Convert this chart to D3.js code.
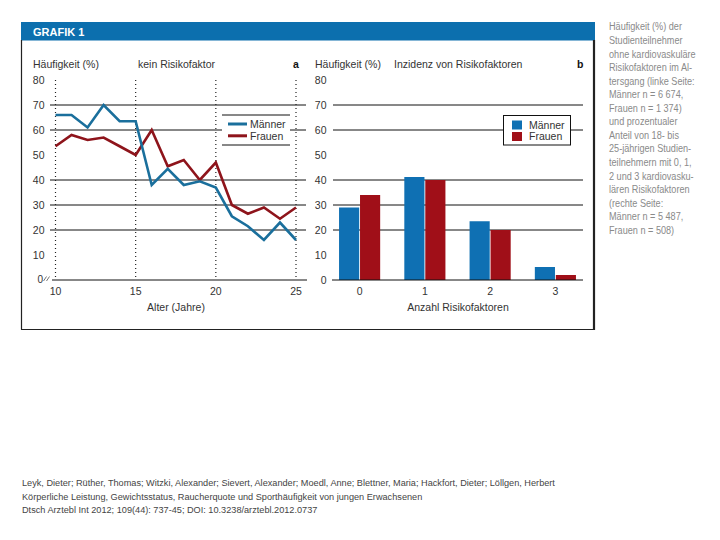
<!DOCTYPE html>
<html>
<head>
<meta charset="utf-8">
<script src="https://cdn.jsdelivr.net/npm/d3@7"></script>
<style>
  body { margin: 0; background: #fff; }
  text { font-family: "Liberation Sans", Arial, sans-serif; }
</style>
</head>
<body>
<script>
// daten
const ages = [10, 11, 12, 13, 14, 15, 16, 17, 18, 19, 20, 21, 22, 23, 24, 25];
const maenner = [66, 66, 61, 70, 63.5, 63.5, 38, 44.5, 38, 39.5, 37, 25.5, 21.5, 16, 23, 16];
const frauen = [53.5, 58, 56, 57, 53.5, 50, 60, 45.5, 48, 40, 47, 30, 26.5, 29, 24.5, 29];
const anzahl = ["0", "1", "2", "3"];
const barM = [29, 41.2, 23.5, 5.2];
const barF = [34, 40, 20, 2];
const yTicks = [0, 10, 20, 30, 40, 50, 60, 70, 80];
const gridVals = [20, 30, 40, 60, 70];
const xTicks = [10, 15, 20, 25];
const sideText = [
  "Häufigkeit (%) der", "Studienteilnehmer", "ohne kardiovaskuläre",
  "Risikofaktoren im Al-", "tersgang (linke Seite:", "Männer n = 6 674,",
  "Frauen n = 1 374)", "und prozentualer", "Anteil von 18- bis",
  "25-jährigen Studien-", "teilnehmern mit 0, 1,", "2 und 3 kardiovasku-",
  "lären Risikofaktoren", "(rechte Seite:", "Männer n = 5 487,", "Frauen n = 508)"
];
const zitat = [
  "Leyk, Dieter; Rüther, Thomas; Witzki, Alexander; Sievert, Alexander; Moedl, Anne; Blettner, Maria; Hackfort, Dieter; Löllgen, Herbert",
  "Körperliche Leistung, Gewichtsstatus, Raucherquote und Sporthäufigkeit von jungen Erwachsenen",
  "Dtsch Arztebl Int 2012; 109(44): 737-45; DOI: 10.3238/arztebl.2012.0737"
];

const blauLinie = "#1a6f9c", rotLinie = "#8e141b";
const blauBar = "#0f70b3", rotBar = "#a00f18";
const txt = "#333";

const svg = d3.select("body").append("svg")
  .attr("width", 720).attr("height", 540);

// Rahmen + Kopf
svg.append("rect").attr("x", 21).attr("y", 22).attr("width", 574).attr("height", 18.5)
  .attr("fill", "#0c6fae");
svg.append("text").attr("x", 33).attr("y", 35.5).attr("fill", "#fff")
  .style("font-size", "11px").style("font-weight", "bold").text("GRAFIK 1");
svg.append("line").attr("x1", 21.5).attr("x2", 21.5).attr("y1", 40).attr("y2", 329.5)
  .attr("stroke", "#222").attr("stroke-width", 1.2);
svg.append("line").attr("x1", 21).attr("x2", 595).attr("y1", 329.5).attr("y2", 329.5)
  .attr("stroke", "#222").attr("stroke-width", 1.2);
svg.append("line").attr("x1", 594).attr("x2", 594).attr("y1", 40).attr("y2", 330)
  .attr("stroke", "#222").attr("stroke-width", 2.2);

const y = d3.scaleLinear().domain([0, 80]).range([280, 80]);

// ---------- a: Linien ----------
const x = d3.scaleLinear().domain([10, 25]).range([55.5, 296]);
const ga = svg.append("g");

ga.selectAll(".grid").data(gridVals).enter().append("line")
  .attr("x1", 50).attr("x2", 306)
  .attr("y1", d => y(d)).attr("y2", d => y(d))
  .attr("stroke", "#111").attr("stroke-width", 1);
ga.append("line").attr("x1", 52).attr("x2", 307).attr("y1", y(0)).attr("y2", y(0))
  .attr("stroke", "#111").attr("stroke-width", 1);

ga.selectAll(".dot").data(xTicks).enter().append("line")
  .attr("x1", d => x(d)).attr("x2", d => x(d))
  .attr("y1", y(80)).attr("y2", y(0))
  .attr("stroke", "#222").attr("stroke-width", 1.2).attr("stroke-dasharray", "1,3");

ga.selectAll(".yl").data(yTicks.filter(d => d > 0)).enter().append("text")
  .attr("x", 44.5).attr("y", d => y(d) + 4).attr("text-anchor", "end")
  .attr("fill", txt).style("font-size", "10.5px").text(d => d);
ga.append("text").attr("x", 43).attr("y", y(0) + 3).attr("text-anchor", "end")
  .attr("fill", txt).style("font-size", "10px").text("0");
// Achsenbruch
[0, 3].forEach(o => ga.append("line")
  .attr("x1", 43.5 + o).attr("y1", y(0) + 1).attr("x2", 46.5 + o).attr("y2", y(0) - 3.5)
  .attr("stroke", "#555").attr("stroke-width", 0.8));

ga.selectAll(".xl").data(xTicks).enter().append("text")
  .attr("x", d => x(d)).attr("y", 295).attr("text-anchor", "middle")
  .attr("fill", txt).style("font-size", "10.5px").text(d => d);
ga.append("text").attr("x", 176).attr("y", 311).attr("text-anchor", "middle")
  .attr("fill", txt).style("font-size", "10.5px").text("Alter (Jahre)");

ga.append("text").attr("x", 33).attr("y", 68).attr("fill", txt)
  .style("font-size", "10.5px").text("Häufigkeit (%)");
ga.append("text").attr("x", 138).attr("y", 68).attr("fill", txt)
  .style("font-size", "10.5px").text("kein Risikofaktor");
ga.append("text").attr("x", 293).attr("y", 68).attr("fill", "#111")
  .style("font-size", "10.5px").style("font-weight", "bold").text("a");

const line = d3.line().x((d, i) => x(ages[i])).y(d => y(d));
ga.append("path").datum(frauen).attr("d", line).attr("fill", "none")
  .attr("stroke", rotLinie).attr("stroke-width", 2.6).attr("stroke-linejoin", "miter");
ga.append("path").datum(maenner).attr("d", line).attr("fill", "none")
  .attr("stroke", blauLinie).attr("stroke-width", 2.6).attr("stroke-linejoin", "miter");

// Legende a
ga.append("rect").attr("x", 222).attr("y", 115).attr("width", 68).attr("height", 30).attr("fill", "#fff");
[115, 145].forEach(v => ga.append("line").attr("x1", 222).attr("x2", 290)
  .attr("y1", v).attr("y2", v).attr("stroke", "#111"));
[["Männer", blauLinie], ["Frauen", rotLinie]].forEach((d, i) => {
  ga.append("line").attr("x1", 228).attr("x2", 247)
    .attr("y1", 124 + i * 11.8).attr("y2", 124 + i * 11.8)
    .attr("stroke", d[1]).attr("stroke-width", 3);
  ga.append("text").attr("x", 250).attr("y", 128 + i * 11.8).attr("fill", txt)
    .style("font-size", "10.5px").text(d[0]);
});

// ---------- b: Balken ----------
const gb = svg.append("g");
const xb = d3.scaleBand().domain(anzahl).range([326, 589]).paddingInner(0.37).paddingOuter(0.2);
const xs = d3.scaleBand().domain(["M", "F"]).range([0, xb.bandwidth()]).paddingInner(0.04);

gb.selectAll(".grid").data(gridVals).enter().append("line")
  .attr("x1", 333).attr("x2", 583)
  .attr("y1", d => y(d)).attr("y2", d => y(d))
  .attr("stroke", "#111").attr("stroke-width", 1);

gb.selectAll(".yl").data(yTicks).enter().append("text")
  .attr("x", 326.5).attr("y", d => y(d) + 4).attr("text-anchor", "end")
  .attr("fill", txt).style("font-size", "10.5px").text(d => d);

const grp = gb.selectAll(".grp").data(anzahl).enter().append("g")
  .attr("transform", d => `translate(${xb(d)},0)`);
grp.append("rect").attr("x", xs("M")).attr("width", xs.bandwidth())
  .attr("y", (d, i) => y(barM[i])).attr("height", (d, i) => y(0) - y(barM[i]))
  .attr("fill", blauBar);
grp.append("rect").attr("x", xs("F")).attr("width", xs.bandwidth())
  .attr("y", (d, i) => y(barF[i])).attr("height", (d, i) => y(0) - y(barF[i]))
  .attr("fill", rotBar);

gb.append("line").attr("x1", 332).attr("x2", 583).attr("y1", y(0)).attr("y2", y(0))
  .attr("stroke", "#111").attr("stroke-width", 1);

gb.selectAll(".xl").data(anzahl).enter().append("text")
  .attr("x", d => xb(d) + xb.bandwidth() / 2).attr("y", 295).attr("text-anchor", "middle")
  .attr("fill", txt).style("font-size", "10.5px").text(d => d);
gb.append("text").attr("x", 458).attr("y", 311).attr("text-anchor", "middle")
  .attr("fill", txt).style("font-size", "10.5px").text("Anzahl Risikofaktoren");

gb.append("text").attr("x", 315).attr("y", 68).attr("fill", txt)
  .style("font-size", "10.5px").text("Häufigkeit (%)");
gb.append("text").attr("x", 394).attr("y", 68).attr("fill", txt)
  .style("font-size", "10.5px").text("Inzidenz von Risikofaktoren");
gb.append("text").attr("x", 577).attr("y", 68).attr("fill", "#111")
  .style("font-size", "10.5px").style("font-weight", "bold").text("b");

// Legende b
gb.append("rect").attr("x", 503.5).attr("y", 115.5).attr("width", 67).attr("height", 29.5)
  .attr("fill", "#fff").attr("stroke", "#111");
[["Männer", blauBar], ["Frauen", rotBar]].forEach((d, i) => {
  gb.append("rect").attr("x", 512).attr("y", 120.5 + i * 11.5).attr("width", 10).attr("height", 9)
    .attr("fill", d[1]);
  gb.append("text").attr("x", 529).attr("y", 128.5 + i * 11.5).attr("fill", txt)
    .style("font-size", "10.5px").text(d[0]);
});

// Seitentext (schmal gezogen)
const side = svg.append("g").attr("transform", "translate(609,0) scale(0.83,1)");
side.selectAll(".side").data(sideText).enter().append("text")
  .attr("x", 0).attr("y", (d, i) => 30.5 + i * 13.55)
  .attr("fill", "#8a8a8a")
  .style("font-size", "11px").text(d => d);

// Zitat
const zit = svg.append("g").attr("transform", "translate(22,0) scale(0.965,1)");
zit.selectAll(".zit").data(zitat).enter().append("text")
  .attr("x", 0).attr("y", (d, i) => 486.5 + i * 13.5)
  .attr("fill", "#444")
  .style("font-size", "9.5px").text(d => d);
</script>
</body>
</html>
